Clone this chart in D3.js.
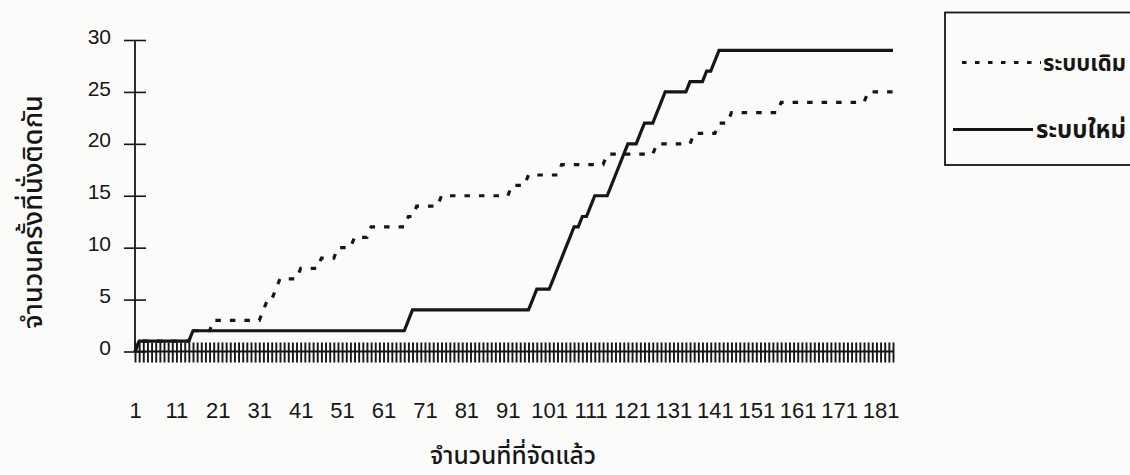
<!DOCTYPE html>
<html>
<head>
<meta charset="utf-8">
<script src="https://cdn.jsdelivr.net/npm/d3@7"></script>
<style>
  html, body { margin: 0; padding: 0; background: #fbfbfa; }
  svg { display: block; }
</style>
</head>
<body>
<svg id="chart" width="1130" height="475"></svg>
<script>
// ---- data ----
const categories = d3.range(1, 185); // 184 categories, 1..184
const xTickLabels = [1, 11, 21, 31, 41, 51, 61, 71, 81, 91, 101, 111, 121, 131, 141, 151, 161, 171, 181];
const yTicks = [0, 5, 10, 15, 20, 25, 30];
const seriesNames = ["ระบบเดิม", "ระบบใหม่"];
const oldSystem = [
  0,1,1,1,1,1,1,1,1,1,
  1,1,1,1,2,2,2,2,2,3,
  3,3,3,3,3,3,3,3,3,3,
  3,4,5,5,6,7,7,7,7,7,
  8,8,8,8,8,9,9,9,9,10,
  10,10,10,11,11,11,11,12,12,12,
  12,12,12,12,12,12,13,13,14,14,
  14,14,14,14,15,15,15,15,15,15,
  15,15,15,15,15,15,15,15,15,15,
  15,16,16,16,16,17,17,17,17,17,
  17,17,17,18,18,18,18,18,18,18,
  18,18,18,18,19,19,19,19,19,19,
  19,19,19,19,19,19,20,20,20,20,
  20,20,20,20,20,21,21,21,21,21,
  21,22,22,22,23,23,23,23,23,23,
  23,23,23,23,23,23,24,24,24,24,
  24,24,24,24,24,24,24,24,24,24,
  24,24,24,24,24,24,24,25,25,25,
  25,25,25,25
];
const newSystem = [
  0,1,1,1,1,1,1,1,1,1,
  1,1,1,1,2,2,2,2,2,2,
  2,2,2,2,2,2,2,2,2,2,
  2,2,2,2,2,2,2,2,2,2,
  2,2,2,2,2,2,2,2,2,2,
  2,2,2,2,2,2,2,2,2,2,
  2,2,2,2,2,2,3,4,4,4,
  4,4,4,4,4,4,4,4,4,4,
  4,4,4,4,4,4,4,4,4,4,
  4,4,4,4,4,4,5,6,6,6,
  6,7,8,9,10,11,12,12,13,13,
  14,15,15,15,15,16,17,18,19,20,
  20,20,21,22,22,22,23,24,25,25,
  25,25,25,25,26,26,26,26,27,27,
  28,29,29,29,29,29,29,29,29,29,
  29,29,29,29,29,29,29,29,29,29,
  29,29,29,29,29,29,29,29,29,29,
  29,29,29,29,29,29,29,29,29,29,
  29,29,29,29
];

// ---- chart ----
const svg = d3.select("#chart");
const ink = "#161616";
const thaiFont = "'Noto Sans Thai', 'Noto Sans Thai Looped', 'Noto Serif Thai', Garuda, Loma, Kinnari, 'Tlwg Typo', 'DejaVu Sans', sans-serif";

// shrink/grow a text's font size so that it spans the wanted width
function fitWidth(sel, size, width) {
  sel.attr("font-size", size);
  const w = sel.node().getComputedTextLength();
  if (w > 0) sel.attr("font-size", size * width / w);
}

const x = d3.scaleLinear().domain([1, 184]).range([135, 893]);
const y = d3.scaleLinear().domain([0, 30]).range([351.5, 40]);

// x axis: a tick at every category, crossing the axis line
const xAxisG = svg.append("g")
  .attr("transform", `translate(0,${y(0)})`)
  .call(d3.axisBottom(x).tickValues(categories).tickSize(11).tickFormat(""));
xAxisG.select(".domain").attr("d", `M${x(1)},0H${x(184)}`).attr("stroke", ink).attr("stroke-width", 1.8);
xAxisG.selectAll(".tick line").attr("y1", -9).attr("y2", 11).attr("stroke", ink).attr("stroke-width", 1.9);

// x labels
const xLabG = svg.append("g")
  .attr("transform", `translate(0,${y(0)})`)
  .call(d3.axisBottom(x).tickValues(xTickLabels).tickSize(0).tickPadding(51));
xLabG.select(".domain").remove();
xLabG.selectAll("text")
  .attr("font-family", "'Liberation Sans Narrow', 'Arial Narrow', 'Liberation Sans', sans-serif")
  .attr("font-size", 22).attr("fill", ink);

// y axis
const yAxisG = svg.append("g")
  .attr("transform", `translate(${x(1)},0)`)
  .call(d3.axisLeft(y).tickValues(yTicks).tickSize(11).tickPadding(13));
yAxisG.select(".domain").attr("d", `M0,${y(30)}V${y(0)}`).attr("stroke", ink).attr("stroke-width", 1.8);
yAxisG.selectAll(".tick line").attr("x2", 11).attr("x1", -11).attr("stroke", ink).attr("stroke-width", 1.6);
yAxisG.selectAll("text")
  .attr("font-family", "'Liberation Sans', Arial, sans-serif")
  .attr("font-size", 21).attr("fill", ink).attr("dy", "0.15em");

// lines
const line = d3.line().x((d, i) => x(categories[i])).y(d => y(d));
svg.append("path").datum(oldSystem)
  .attr("d", line).attr("fill", "none").attr("stroke", ink)
  .attr("stroke-width", 3.2).attr("stroke-dasharray", "5.5,9");
svg.append("path").datum(newSystem)
  .attr("d", line).attr("fill", "none").attr("stroke", ink)
  .attr("stroke-width", 3.2).attr("stroke-linejoin", "miter");

// axis titles
const xTitle = svg.append("text")
  .attr("x", 513).attr("y", 464).attr("text-anchor", "middle")
  .attr("font-family", thaiFont).attr("font-weight", 500).attr("fill", ink)
  .text("จำนวนที่ที่จัดแล้ว");
fitWidth(xTitle, 21, 166);
const yTitle = svg.append("text")
  .attr("transform", "translate(42,212) rotate(-90)").attr("text-anchor", "middle")
  .attr("font-family", thaiFont).attr("font-weight", 500).attr("fill", ink)
  .text("จำนวนครั้งที่นั่งติดกัน");
fitWidth(yTitle, 21, 234);

// legend
const lg = svg.append("g");
lg.append("rect").attr("x", 945).attr("y", 12.5).attr("width", 220).attr("height", 152.5)
  .attr("fill", "none").attr("stroke", ink).attr("stroke-width", 1.8);
const legendRows = [
  { name: seriesNames[0], dash: "4.5,8.5", x1: 962, x2: 1041, y: 62.5, tx: 1043 },
  { name: seriesNames[1], dash: null, x1: 953, x2: 1033, y: 129.5, tx: 1036 }
];
legendRows.forEach(r => {
  lg.append("line").attr("x1", r.x1).attr("x2", r.x2).attr("y1", r.y).attr("y2", r.y)
    .attr("stroke", ink).attr("stroke-width", 3)
    .attr("stroke-dasharray", r.dash);
  const t = lg.append("text").attr("x", r.tx).attr("y", r.y + 8)
    .attr("font-family", thaiFont).attr("font-weight", "bold").attr("fill", ink)
    .text(r.name);
  fitWidth(t, 22, 1126 - r.tx);
});
</script>
</body>
</html>
